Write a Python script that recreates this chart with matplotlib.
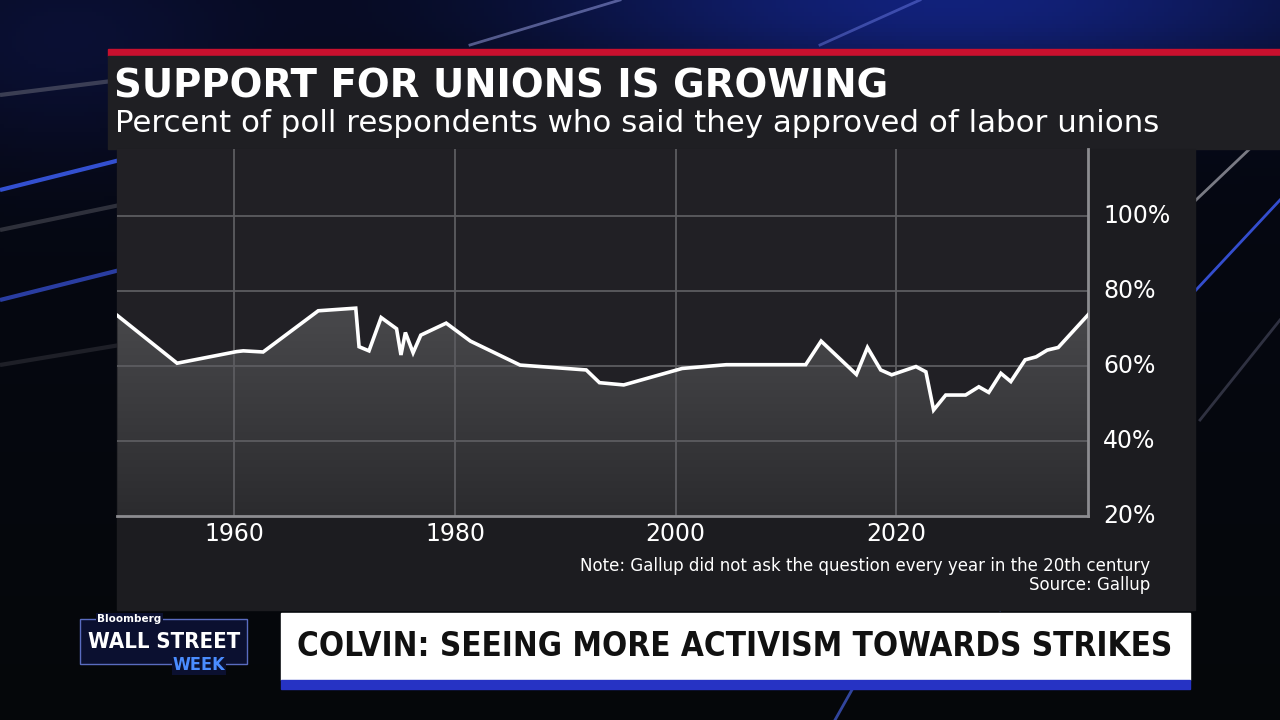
import os
import numpy as np
import matplotlib.pyplot as plt
from matplotlib.patches import Rectangle, Polygon
from matplotlib.colors import LinearSegmentedColormap
from matplotlib import font_manager
from matplotlib.font_manager import FontProperties

# data (x in the chart's own year scale)
years = [1949.4, 1954.8, 1960.2, 1960.8, 1962.6, 1967.6, 1971.0, 1971.3, 1972.2,
         1973.3, 1974.7, 1975.1, 1975.5, 1976.2, 1976.9, 1979.2, 1981.4, 1985.9,
         1991.9, 1993.1, 1995.3, 2000.6, 2004.6, 2011.8, 2013.2, 2016.4, 2017.4,
         2018.6, 2019.6, 2021.8, 2022.7, 2023.4, 2024.5, 2026.3, 2027.5, 2028.4,
         2029.5, 2030.4, 2031.7, 2032.7, 2033.7, 2034.7, 2037.4]
approval = [73.5, 60.8, 63.9, 64.1, 63.8, 74.8, 75.5, 65.2, 64.1,
            73.0, 70.0, 63.0, 69.0, 63.6, 68.3, 71.5, 66.7, 60.3,
            59.0, 55.6, 55.0, 59.4, 60.4, 60.4, 66.7, 57.8, 65.0,
            59.0, 57.7, 59.9, 58.5, 48.3, 52.3, 52.3, 54.5, 53.0,
            58.1, 55.9, 61.7, 62.5, 64.3, 65.0, 73.7]
x_ticks = [1960, 1980, 2000, 2020]
y_ticks = [20, 40, 60, 80, 100]

title = "SUPPORT FOR UNIONS IS GROWING"
subtitle = "Percent of poll respondents who said they approved of labor unions"
note = "Note: Gallup did not ask the question every year in the 20th century"
source = "Source: Gallup"
headline = "COLVIN: SEEING MORE ACTIVISM TOWARDS STRIKES"


def find_condensed_bold():
    # look for any installed bold condensed/narrow face
    rank = {'extra-condensed': 0, 'ultra-condensed': 1, 'condensed': 2, 'semi-condensed': 3}
    best, best_r = None, 99
    for f in font_manager.fontManager.ttflist:
        fn = os.path.basename(f.fname).lower()
        st = str(f.stretch).lower()
        if 'italic' in fn or 'oblique' in fn or f.style != 'normal':
            continue
        try:
            w = int(f.weight)
        except ValueError:
            w = 700 if 'bold' in str(f.weight).lower() else 400
        if w < 600 or w > 800:
            continue
        if st in rank:
            r = rank[st]
        elif 'extracondensed' in fn:
            r = 0
        elif 'condensed' in fn or 'narrow' in fn or 'narrow' in f.name.lower():
            r = 2
        else:
            continue
        if r < best_r:
            best, best_r = f.fname, r
    if best is None:
        return FontProperties(family='DejaVu Sans', weight='bold')
    return FontProperties(fname=best)


cond = find_condensed_bold()

W, H = 1280, 720
fig = plt.figure(figsize=(12.8, 7.2), dpi=100)


def fx(x):
    return x / W


def fy(y):
    return 1 - y / H


def fit_width(t, target):
    r = fig.canvas.get_renderer()
    w = t.get_window_extent(r).width
    t.set_fontsize(t.get_fontsize() * target / w)


# --- broadcast background ---
bg = fig.add_axes([0, 0, 1, 1])
bg.set_xlim(0, W)
bg.set_ylim(H, 0)
bg.axis('off')
yy, xx = np.mgrid[0:H:4, 0:W:4]
glow = np.exp(-((xx - 950) / 420.0) ** 2 - (yy / 90.0) ** 2)
glow2 = np.exp(-((xx - 60) / 200.0) ** 2 - ((yy - 40) / 120.0) ** 2)
img = np.zeros(xx.shape + (3,))
img[..., 0] = 0.02 + 0.05 * glow + 0.02 * glow2
img[..., 1] = 0.03 + 0.10 * glow + 0.03 * glow2
img[..., 2] = 0.08 + 0.40 * glow + 0.12 * glow2 - 0.04 * (yy / H)
bg.imshow(np.clip(img, 0, 1), extent=[0, W, H, 0], aspect='auto', zorder=0)

# streaks on the left and right
for y0, y1, c, a in [(95, 80, '#9a9aa0', 0.35), (230, 205, '#7c7c84', 0.35),
                     (190, 160, '#3f63ff', 0.8), (300, 270, '#3a55e0', 0.7),
                     (365, 345, '#6a6a72', 0.25)]:
    bg.plot([0, 120], [y0, y1], color=c, alpha=a, lw=3, solid_capstyle='butt', zorder=1)
for xa, ya, xb, yb, c, a in [(1196, 200, 1280, 120, '#c8c8d0', 0.6),
                             (1196, 290, 1280, 200, '#4060ff', 0.8),
                             (1200, 420, 1280, 320, '#8080a0', 0.35),
                             (470, 45, 620, 0, '#b0b8ff', 0.45),
                             (820, 45, 920, 0, '#8090ff', 0.4),
                             (835, 720, 880, 640, '#5070ff', 0.6),
                             (1000, 610, 1060, 520, '#6080ff', 0.4)]:
    bg.plot([xa, xb], [ya, yb], color=c, alpha=a, lw=2, zorder=1)

# panels
bg.add_patch(Rectangle((108, 49), W - 108, 7, color='#c8102e', zorder=2))
bg.add_patch(Rectangle((108, 56), W - 108, 93, color='#1f1f23', zorder=2))
bg.add_patch(Rectangle((117, 149), 1195 - 117, 610 - 149, color='#1c1c20', zorder=2))

t_title = fig.text(fx(114), fy(97), title, color='white', fontsize=27, fontweight='bold',
                   family='DejaVu Sans', va='baseline', ha='left')
t_sub = fig.text(fx(115), fy(132), subtitle, color='white', fontsize=22.5,
                 family='DejaVu Sans', va='baseline', ha='left')

# --- chart ---
ax = fig.add_axes([fx(117), fy(516), fx(1088) - fx(117), fy(149) - fy(516)])
ax.set_facecolor('#212025')
xmin, xmax = 1949.35, 2037.4
ymin, ymax = 20, 118

verts = [(years[0], ymin)] + list(zip(years, approval)) + [(years[-1], ymin)]
area = Polygon(verts, closed=True, facecolor='none', edgecolor='none')
ax.add_patch(area)
fill_cmap = LinearSegmentedColormap.from_list('fill', ['#2b2b2e', '#49494c'])
grad = np.linspace(0, 1, 256).reshape(-1, 1)
shade = ax.imshow(grad, extent=[xmin, xmax, ymin, 76], origin='lower', cmap=fill_cmap,
                  aspect='auto', zorder=1)
shade.set_clip_path(area)

for v in x_ticks:
    ax.axvline(v, color='#5c5c60', lw=1.3, zorder=2)
for v in y_ticks[1:]:
    ax.axhline(v, color='#5c5c60', lw=1.3, zorder=2)

ax.plot(years, approval, color='white', lw=2.6, zorder=4, solid_joinstyle='miter')

ax.set_xlim(xmin, xmax)
ax.set_ylim(ymin, ymax)
ax.set_xticks(x_ticks)
ax.set_xticklabels([str(v) for v in x_ticks])
ax.set_yticks(y_ticks)
ax.set_yticklabels([f"{v}%" for v in y_ticks])
ax.yaxis.tick_right()
ax.tick_params(length=0, colors='white', labelsize=17)
ax.tick_params(axis='x', pad=4)
ax.tick_params(axis='y', pad=11)
for lab in ax.get_xticklabels() + ax.get_yticklabels():
    lab.set_family('DejaVu Sans')
for lab in ax.get_yticklabels():
    lab.set_verticalalignment('center')
for s in ['top', 'left']:
    ax.spines[s].set_visible(False)
for s in ['bottom', 'right']:
    ax.spines[s].set_color('#8c8c90')
    ax.spines[s].set_linewidth(2)

t_note = fig.text(fx(1150), fy(566), note, color='white', fontsize=12,
                  family='DejaVu Sans', ha='right', va='center')
t_src = fig.text(fx(1150), fy(585), source, color='white', fontsize=12,
                 family='DejaVu Sans', ha='right', va='center')

# --- lower third ---
bg.add_patch(Rectangle((281, 613), 1190 - 281, 67, color='white', zorder=2))
bg.add_patch(Rectangle((281, 680), 1190 - 281, 9, color='#2633c4', zorder=2))
t_head = fig.text(fx(735), fy(647), headline, color='#111111', fontsize=30,
                  fontproperties=cond, ha='center', va='center')

bg.add_patch(Rectangle((80, 619), 167, 45, facecolor='#0b1030', edgecolor='#5a6cc0',
                       lw=1, zorder=2))
fig.text(fx(97), fy(619), "Bloomberg", color='white', fontsize=7.5, fontweight='bold',
         family='DejaVu Sans', ha='left', va='center',
         bbox=dict(facecolor='#0b1030', edgecolor='none', pad=1))
t_wall = fig.text(fx(164), fy(642), "WALL STREET", color='white', fontsize=19,
                  fontproperties=cond, ha='center', va='center')
t_week = fig.text(fx(225), fy(665), "WEEK", color='#4a8cff', fontsize=13,
                  fontproperties=cond, ha='right', va='center',
                  bbox=dict(facecolor='#0b1030', edgecolor='none', pad=0.5))

fig.canvas.draw()
fit_width(t_title, 775)
fit_width(t_sub, 1043)
fit_width(t_note, 570)
t_src.set_fontsize(t_note.get_fontsize())
fit_width(t_head, 873)
fit_width(t_wall, 152)

fig.savefig('out.png', dpi=100)
